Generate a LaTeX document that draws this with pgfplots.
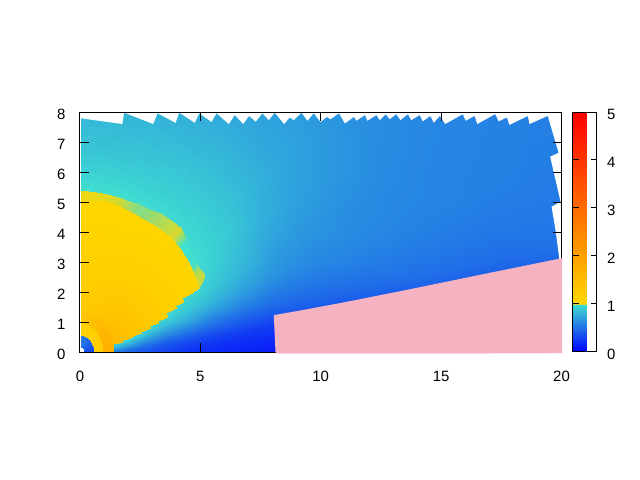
\documentclass[border=0pt]{standalone}
\usepackage{fontspec}
\setmainfont{Liberation Sans}
\usepackage{pgfplots}
\pgfplotsset{compat=1.18}
\pgfplotsset{
  colormap={bandmix}{rgb255(0)=(64,224,208) rgb255(5)=(255,215,0)},
  colormap={gnu}{rgb255(0)=(0,0,255) rgb255(1000)=(64,224,208) rgb255(1001)=(255,215,0) rgb255(5000)=(255,0,0)},
  frame/.style={scale only axis, width=481.5bp, height=240bp, xmin=0, xmax=20, ymin=0, ymax=8},
  table/polar table/.style={x expr=\thisrow{r}*cos(\thisrow{a}), y expr=\thisrow{r}*sin(\thisrow{a}), meta=v, row sep=\\},
}
\begin{document}
\begin{tikzpicture}
\path[use as bounding box] (-80bp,-128bp) rectangle (560bp,352bp);
\begin{axis}[
  frame,
  axis on top,
  colormap name=gnu,
  point meta min=0, point meta max=5,
  xtick={0,5,10,15,20}, ytick={0,...,8},
  tick align=inside, major tick length=9bp,
  tick style={black, line width=1bp},
  axis line style={line width=1bp},
  tick label style={font=\fontsize{15}{15}\selectfont, /pgf/number format/assume math mode=true},
  xticklabel style={yshift=-15.5bp},
  yticklabel style={xshift=-11bp, yshift=-2.5bp},
  colorbar,
  colorbar shift/.style={xshift=-0.5bp},
  colorbar style={
    width=24bp,
    ytick={0,...,5},
    tick align=inside, major tick length=6bp,
    ytick pos=both, yticklabel pos=right,
    tick style={black, line width=1bp},
    axis line style={line width=1bp},
    yticklabel style={xshift=7bp, yshift=-2.5bp, font=\fontsize{15}{15}\selectfont, /pgf/number format/assume math mode=true},
  },
]
% outer field, far from the centre
\addplot[surf, shader=interp, mesh/cols=10, point meta=explicit, forget plot] table[polar table] {
r a v\\
7.9 6 .265\\7.9 10 .43\\7.9 14 .56\\7.9 18 .68\\7.9 24 .76\\7.9 30 .83\\7.9 38 .87\\7.9 48 .86\\7.9 62 .835\\7.9 90 .815\\
9 6 .28\\9 10 .44\\9 14 .55\\9 18 .64\\9 24 .71\\9 30 .77\\9 38 .81\\9 48 .81\\9 62 .79\\9 90 .77\\
10 6 .3\\10 10 .45\\10 14 .55\\10 18 .62\\10 24 .68\\10 30 .73\\10 38 .76\\10 48 .76\\10 62 .74\\10 90 .72\\
12 6 .3\\12 10 .47\\12 14 .56\\12 18 .61\\12 24 .64\\12 30 .68\\12 38 .7\\12 48 .7\\12 62 .69\\12 90 .68\\
14 6 .3\\14 10 .49\\14 14 .56\\14 18 .595\\14 24 .615\\14 30 .635\\14 38 .65\\14 48 .655\\14 62 .645\\14 90 .635\\
16 6 .3\\16 10 .49\\16 14 .55\\16 18 .585\\16 24 .595\\16 30 .61\\16 38 .615\\16 48 .615\\16 62 .615\\16 90 .615\\
18 6 .3\\18 10 .49\\18 14 .545\\18 18 .575\\18 24 .585\\18 30 .59\\18 38 .595\\18 48 .595\\18 62 .595\\18 90 .595\\
20 6 .3\\20 10 .51\\20 14 .545\\20 18 .565\\20 24 .575\\20 30 .58\\20 38 .585\\20 48 .585\\20 62 .585\\20 90 .585\\
22 6 .3\\22 10 .51\\22 14 .545\\22 18 .565\\22 24 .565\\22 30 .57\\22 38 .575\\22 48 .575\\22 62 .575\\22 90 .575\\
};
% low angles, smooth
\addplot[surf, shader=interp, mesh/cols=12, point meta=explicit, forget plot] table[polar table] {
r a v\\
1.3 0 .55\\1.3 2 .6\\1.3 4 .7\\1.3 6 .8\\1.3 8 .9\\1.3 10 .95\\1.3 12 .97\\1.3 15 .97\\1.3 18 .97\\1.3 22 .97\\1.3 27 .97\\1.3 33 .97\\
2 0 .45\\2 2 .5\\2 4 .58\\2 6 .68\\2 8 .78\\2 10 .87\\2 12 .94\\2 15 .97\\2 18 .97\\2 22 .97\\2 27 .97\\2 33 .97\\
2.6 0 .38\\2.6 2 .42\\2.6 4 .48\\2.6 6 .58\\2.6 8 .68\\2.6 10 .78\\2.6 12 .88\\2.6 15 .95\\2.6 18 .97\\2.6 22 .97\\2.6 27 .97\\2.6 33 .97\\
3.2 0 .32\\3.2 2 .36\\3.2 4 .42\\3.2 6 .5\\3.2 8 .6\\3.2 10 .7\\3.2 12 .8\\3.2 15 .92\\3.2 18 .96\\3.2 22 .97\\3.2 27 .97\\3.2 33 .97\\
3.8 0 .28\\3.8 2 .31\\3.8 4 .36\\3.8 6 .44\\3.8 8 .54\\3.8 10 .64\\3.8 12 .74\\3.8 15 .87\\3.8 18 .94\\3.8 22 .97\\3.8 27 .97\\3.8 33 .97\\
4.4 0 .24\\4.4 2 .27\\4.4 4 .32\\4.4 6 .4\\4.4 8 .5\\4.4 10 .6\\4.4 12 .7\\4.4 15 .83\\4.4 18 .91\\4.4 22 .96\\4.4 27 .97\\4.4 33 .97\\
5 0 .2\\5 2 .23\\5 4 .28\\5 6 .36\\5 8 .46\\5 10 .56\\5 12 .66\\5 15 .78\\5 18 .87\\5 22 .94\\5 27 .97\\5 33 .98\\
5.4 0 .19\\5.4 2 .22\\5.4 4 .27\\5.4 6 .34\\5.4 8 .44\\5.4 10 .54\\5.4 12 .63\\5.4 15 .76\\5.4 18 .85\\5.4 22 .93\\5.4 27 .97\\5.4 33 .99\\
5.7 0 .18\\5.7 2 .21\\5.7 4 .26\\5.7 6 .33\\5.7 8 .42\\5.7 10 .52\\5.7 12 .61\\5.7 15 .74\\5.7 18 .83\\5.7 22 .91\\5.7 27 .96\\5.7 33 .98\\
6 0 .17\\6 2 .2\\6 4 .25\\6 6 .32\\6 8 .41\\6 10 .5\\6 12 .59\\6 15 .72\\6 18 .81\\6 22 .89\\6 27 .94\\6 33 .965\\
6.3 0 .165\\6.3 2 .19\\6.3 4 .24\\6.3 6 .31\\6.3 8 .4\\6.3 10 .49\\6.3 12 .58\\6.3 15 .7\\6.3 18 .79\\6.3 22 .87\\6.3 27 .92\\6.3 33 .95\\
6.6 0 .16\\6.6 2 .185\\6.6 4 .23\\6.6 6 .3\\6.6 8 .39\\6.6 10 .47\\6.6 12 .56\\6.6 15 .68\\6.6 18 .77\\6.6 22 .85\\6.6 27 .9\\6.6 33 .935\\
6.9 0 .155\\6.9 2 .18\\6.9 4 .225\\6.9 6 .29\\6.9 8 .38\\6.9 10 .46\\6.9 12 .55\\6.9 15 .66\\6.9 18 .75\\6.9 22 .83\\6.9 27 .88\\6.9 33 .92\\
7.2 0 .15\\7.2 2 .175\\7.2 4 .22\\7.2 6 .28\\7.2 8 .37\\7.2 10 .45\\7.2 12 .54\\7.2 15 .65\\7.2 18 .73\\7.2 22 .81\\7.2 27 .86\\7.2 33 .9\\
7.5 0 .145\\7.5 2 .17\\7.5 4 .215\\7.5 6 .275\\7.5 8 .36\\7.5 10 .44\\7.5 12 .53\\7.5 15 .63\\7.5 18 .72\\7.5 22 .79\\7.5 27 .84\\7.5 33 .88\\
7.8 0 .14\\7.8 2 .165\\7.8 4 .21\\7.8 6 .27\\7.8 8 .35\\7.8 10 .44\\7.8 12 .52\\7.8 15 .62\\7.8 18 .7\\7.8 22 .77\\7.8 27 .82\\7.8 33 .87\\
8.1 0 .135\\8.1 2 .16\\8.1 4 .2\\8.1 6 .265\\8.1 8 .34\\8.1 10 .43\\8.1 12 .51\\8.1 15 .6\\8.1 18 .68\\8.1 22 .75\\8.1 27 .8\\8.1 33 .85\\
};
% upper angles, rings
\addplot[surf, shader=flat, mesh/cols=12, point meta=explicit, forget plot] table[polar table] {
r a v\\
5 32 .98\\5 40 .98\\5 45 .98\\5 50 .98\\5 55 .98\\5 60 .98\\5 65 .98\\5 70 .98\\5 75 .98\\5 80 .98\\5 85 .98\\5 90 .98\\
5.4 32 .99\\5.4 40 .99\\5.4 45 .99\\5.4 50 .99\\5.4 55 .99\\5.4 60 .99\\5.4 65 .99\\5.4 70 .99\\5.4 75 .99\\5.4 80 .99\\5.4 85 .99\\5.4 90 .99\\
5.7 32 .98\\5.7 40 .98\\5.7 45 .98\\5.7 50 .98\\5.7 55 .98\\5.7 60 .98\\5.7 65 .975\\5.7 70 .97\\5.7 75 .97\\5.7 80 .97\\5.7 85 .965\\5.7 90 .96\\
6 32 .965\\6 40 .965\\6 45 .96\\6 50 .96\\6 55 .955\\6 60 .95\\6 65 .945\\6 70 .94\\6 75 .935\\6 80 .93\\6 85 .93\\6 90 .93\\
6.3 32 .95\\6.3 40 .95\\6.3 45 .95\\6.3 50 .945\\6.3 55 .94\\6.3 60 .93\\6.3 65 .925\\6.3 70 .92\\6.3 75 .915\\6.3 80 .91\\6.3 85 .91\\6.3 90 .91\\
6.6 32 .935\\6.6 40 .935\\6.6 45 .93\\6.6 50 .93\\6.6 55 .92\\6.6 60 .915\\6.6 65 .905\\6.6 70 .9\\6.6 75 .895\\6.6 80 .89\\6.6 85 .89\\6.6 90 .89\\
6.9 32 .92\\6.9 40 .92\\6.9 45 .915\\6.9 50 .91\\6.9 55 .905\\6.9 60 .9\\6.9 65 .89\\6.9 70 .88\\6.9 75 .875\\6.9 80 .87\\6.9 85 .87\\6.9 90 .87\\
7.2 32 .9\\7.2 40 .905\\7.2 45 .9\\7.2 50 .895\\7.2 55 .89\\7.2 60 .88\\7.2 65 .87\\7.2 70 .865\\7.2 75 .86\\7.2 80 .855\\7.2 85 .855\\7.2 90 .855\\
7.5 32 .88\\7.5 40 .89\\7.5 45 .885\\7.5 50 .88\\7.5 55 .87\\7.5 60 .865\\7.5 65 .855\\7.5 70 .85\\7.5 75 .845\\7.5 80 .84\\7.5 85 .84\\7.5 90 .84\\
7.8 32 .87\\7.8 40 .875\\7.8 45 .87\\7.8 50 .865\\7.8 55 .855\\7.8 60 .85\\7.8 65 .84\\7.8 70 .835\\7.8 75 .83\\7.8 80 .825\\7.8 85 .825\\7.8 90 .825\\
8.1 32 .85\\8.1 40 .86\\8.1 45 .855\\8.1 50 .85\\8.1 55 .84\\8.1 60 .835\\8.1 65 .825\\8.1 70 .82\\8.1 75 .815\\8.1 80 .81\\8.1 85 .81\\8.1 90 .81\\
};
% above one, stepped edge towards the axis
\addplot[surf, shader=interp, mesh/cols=5, point meta=explicit, forget plot] table[polar table] {
r a v\\
1.38 11.1 1.55\\1.38 11.1 1.55\\1.38 11.1 1.55\\1.38 11.1 1.55\\1.38 11.1 1.55\\
1.38 11.1 1.55\\1.76 11.1 1.45\\1.76 11.1 1.45\\1.76 11.1 1.45\\1.76 11.1 1.45\\
1.38 12.9 1.55\\1.76 12.9 1.45\\1.76 12.9 1.45\\1.76 12.9 1.45\\1.76 12.9 1.45\\
1.38 12.9 1.55\\2 12.9 1.4\\2.2 12.9 1.35\\2.2 12.9 1.35\\2.2 12.9 1.35\\
1.38 13.8 1.55\\2 13.8 1.4\\2.2 13.8 1.35\\2.2 13.8 1.35\\2.2 13.8 1.35\\
1.38 13.8 1.55\\2 13.8 1.4\\2.6 13.8 1.3\\2.6 13.8 1.3\\2.6 13.8 1.3\\
1.38 15.2 1.55\\2 15.2 1.4\\2.6 15.2 1.3\\2.6 15.2 1.3\\2.6 15.2 1.3\\
1.38 15.2 1.55\\2 15.2 1.4\\3 15.2 1.25\\3 15.2 1.25\\3 15.2 1.25\\
1.38 16.5 1.55\\2 16.5 1.4\\3 16.5 1.25\\3 16.5 1.25\\3 16.5 1.25\\
1.38 16.5 1.55\\2 16.5 1.4\\3 16.5 1.25\\3.39 16.5 1.2\\3.39 16.5 1.2\\
1.38 17.8 1.55\\2 17.8 1.4\\3 17.8 1.25\\3.39 17.8 1.2\\3.39 17.8 1.2\\
1.38 17.8 1.55\\2 17.8 1.4\\3 17.8 1.25\\3.8 17.8 1.17\\3.8 17.8 1.17\\
1.38 20.1 1.55\\2 20.1 1.4\\3 20.1 1.25\\3.8 20.1 1.17\\3.8 20.1 1.17\\
1.38 20.1 1.55\\2 20.1 1.4\\3 20.1 1.25\\4 20.1 1.15\\4.24 20.1 1.13\\
1.38 21.4 1.55\\2 21.4 1.4\\3 21.4 1.25\\4 21.4 1.15\\4.24 21.4 1.13\\
1.38 21.4 1.55\\2 21.4 1.4\\3 21.4 1.25\\4 21.4 1.15\\4.6 21.4 1.1\\
1.38 22.9 1.55\\2 22.9 1.4\\3 22.9 1.25\\4 22.9 1.15\\4.6 22.9 1.1\\
1.38 22.9 1.55\\2 22.9 1.4\\3 22.9 1.25\\4 22.9 1.15\\5.03 22.9 1.07\\
1.38 23.2 1.55\\2 23.2 1.4\\3 23.2 1.25\\4 23.2 1.15\\5.03 23.2 1.07\\
1.38 23.2 1.55\\2 23.2 1.4\\3 23.2 1.25\\4 23.2 1.15\\5.38 23.2 1.04\\
1.38 24 1.55\\2 24 1.4\\3 24 1.25\\4 24 1.15\\5.38 24 1.04\\
1.38 30 1.52\\2 30 1.37\\3 30 1.24\\4 30 1.14\\5.44 30 1.04\\
1.38 36 1.49\\2 36 1.34\\3 36 1.22\\4 36 1.13\\5.45 36 1.04\\
1.38 42 1.46\\2 42 1.33\\3 42 1.21\\4 42 1.13\\5.41 42 1.03\\
1.38 48 1.44\\2 48 1.31\\3 48 1.2\\4 48 1.12\\5.36 48 1.03\\
1.38 54 1.4\\2 54 1.29\\3 54 1.18\\4 54 1.11\\5.25 54 1.03\\
1.38 60 1.35\\2 60 1.27\\3 60 1.17\\4 60 1.1\\5.16 60 1.03\\
1.38 66 1.32\\2 66 1.25\\3 66 1.16\\4 66 1.09\\5.15 66 1.02\\
1.38 72 1.3\\2 72 1.23\\3 72 1.15\\4 72 1.08\\5.15 72 1.02\\
1.38 78 1.27\\2 78 1.21\\3 78 1.14\\4 78 1.08\\5.13 78 1.02\\
1.38 84 1.25\\2 84 1.2\\3 84 1.13\\4 84 1.07\\5.09 84 1.02\\
1.38 90 1.22\\2 90 1.18\\3 90 1.12\\4 90 1.07\\5.05 90 1.02\\
};
% rings round the centre
\addplot[surf, shader=interp, mesh/cols=5, point meta=explicit, forget plot] table[polar table] {
r a v\\
.55 0 1.2\\.93 0 1.2\\.97 0 1.75\\1.36 0 1.75\\1.4 0 1.55\\
.55 15 1.19\\.93 15 1.19\\.97 15 1.68\\1.36 15 1.68\\1.4 15 1.52\\
.55 30 1.18\\.93 30 1.18\\.97 30 1.62\\1.36 30 1.62\\1.4 30 1.5\\
.55 45 1.15\\.93 45 1.15\\.97 45 1.54\\1.36 45 1.54\\1.4 45 1.44\\
.55 60 1.12\\.93 60 1.12\\.97 60 1.45\\1.36 60 1.45\\1.4 60 1.35\\
.55 75 1.1\\.93 75 1.1\\.97 75 1.38\\1.36 75 1.38\\1.4 75 1.28\\
.55 90 1.08\\.93 90 1.08\\.97 90 1.3\\1.36 90 1.3\\1.4 90 1.22\\
};
\addplot[surf, shader=interp, mesh/cols=7, point meta=explicit, forget plot] table[polar table] {
r a v\\
.18 0 .3\\.18 15 .35\\.18 30 .4\\.18 45 .45\\.18 60 .5\\.18 75 .53\\.18 90 .55\\
.55 0 .3\\.55 15 .35\\.55 30 .4\\.55 45 .45\\.55 60 .5\\.55 75 .53\\.55 90 .55\\
};
% mixed cells along the edge of the gold area
\addplot[surf, shader=interp, colormap name=bandmix, mesh/cols=2, point meta=explicit, forget plot] table[polar table] {
r a v\\
5.38 23.2 3.5\\5.38 23.2 3.5\\
5.4 26.3 3.5\\5.79 26.3 3.5\\
5.43 29 3\\5.72 29 3\\
5.45 31 .5\\5.68 31 .5\\
5.46 33 0\\5.66 33 0\\
5.42 40 0\\5.78 40 0\\
5.39 44.6 4\\5.9 44.6 4\\
5.34 49 3.3\\5.8 49 3.3\\
5.25 54.5 2.65\\5.7 54.5 2.65\\
5.17 59 2.1\\5.58 59 2.1\\
5.15 63.4 1.8\\5.5 63.4 1.8\\
5.15 68 2.8\\5.44 68 2.8\\
5.15 72.8 3.9\\5.4 72.8 3.9\\
5.13 78 4.2\\5.39 78 4.2\\
5.1 83 4.4\\5.38 83 4.4\\
5.05 90 4.6\\5.4 90 4.6\\
};
% white outside the jagged outer edge
\addplot[draw=none, fill=white, forget plot] coordinates {
(.04,7.79)(1.76,7.60)(1.83,7.98)(3.04,7.60)(3.22,7.96)(3.97,7.64)(4.12,7.98)(4.77,7.64)(4.95,7.96)(5.46,7.67)
(5.67,7.96)(6.18,7.60)(6.43,7.90)(6.78,7.60)(7.02,7.87)(7.30,7.68)(7.58,7.96)(7.84,7.73)(8.09,7.98)(8.48,7.60)
(8.71,7.82)(8.88,7.73)(9.20,7.98)(9.45,7.71)(9.71,7.96)(9.99,7.67)(10.26,7.84)(10.40,7.76)(10.76,7.96)(11.00,7.62)
(11.38,7.84)(11.48,7.71)(11.84,7.90)(11.94,7.71)(12.31,7.90)(12.45,7.73)(12.70,7.93)(12.86,7.76)(13.14,7.93)(13.31,7.73)
(13.62,7.93)(13.76,7.73)(14.11,7.90)(14.24,7.69)(14.55,7.87)(14.70,7.64)(14.94,7.87)(15.17,7.60)(15.90,7.93)(16.02,7.71)
(16.39,7.87)(16.50,7.60)(17.25,7.93)(17.39,7.69)(17.73,7.82)(17.84,7.57)(18.60,7.87)(18.67,7.60)(19.43,7.87)(19.88,6.64)
(19.53,6.51)(19.96,5.01)(19.59,4.84)(19.75,4.07)(19.89,3.23)(19.95,2.5)(21,2.5)(21,9)(-1,9)(-1,-1)(.04,-1)
} -- cycle;
\end{axis}
% the pink area lies over the frame
\begin{axis}[frame, hide axis, clip=false]
\addplot[draw=none, fill={rgb,255:red,245;green,179;blue,193}] coordinates {
(8.05,1.23)(9.13,1.38)(10.87,1.64)(13.69,2.09)(16.6,2.57)(20.03,3.13)(20.03,-.04)(17,-.05)(13.7,-.05)(10,-.05)(8.2,-.05)(8.12,0)
} -- cycle;
\end{axis}
\end{tikzpicture}
\end{document}
